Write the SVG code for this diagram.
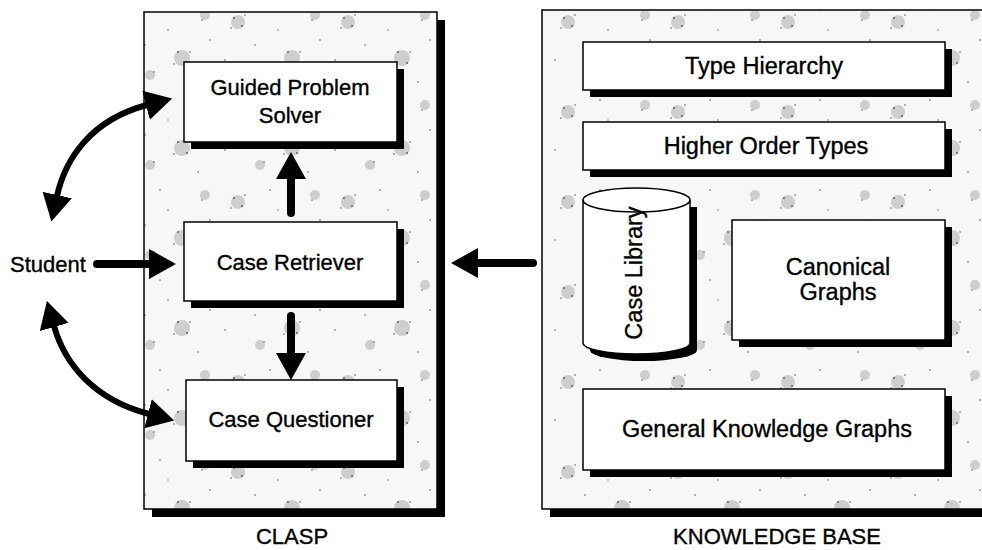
<svg xmlns="http://www.w3.org/2000/svg" width="982" height="550" viewBox="0 0 982 550">
<defs>
<style>
.txt{font-family:"Liberation Sans",Arial,sans-serif;font-size:22px;fill:#000;stroke:#000;stroke-width:0.35;text-anchor:middle}
.txr{font-family:"Liberation Sans",Arial,sans-serif;font-size:23.5px;fill:#000;stroke:#000;stroke-width:0.35;text-anchor:middle}
.box{fill:#fff;stroke:#000;stroke-width:1.5}
.shadow{fill:#000}
.panel{fill:url(#tex);stroke:#000;stroke-width:1.5}
.conn{fill:none;stroke:#000;stroke-width:8;marker-end:url(#ah)}
.curve{fill:none;stroke:#000;stroke-width:6;marker-end:url(#ah);marker-start:url(#ah)}
</style>
<marker id="ah" markerUnits="userSpaceOnUse" markerWidth="28" markerHeight="30" refX="1" refY="15" orient="auto-start-reverse">
<path d="M0,0 L27,15 L0,30 Z" fill="#000"/>
</marker>
<pattern id="tex" width="110" height="90" patternUnits="userSpaceOnUse">
<rect width="110" height="90" fill="#f7f7f7"/>
<g fill="#9a9a9a" opacity="0.45">
<circle cx="18" cy="22" r="7"/><circle cx="72" cy="58" r="8"/><circle cx="95" cy="15" r="5"/><circle cx="40" cy="75" r="5"/>
</g>
<g fill="#555">
<circle cx="14" cy="18" r="0.9"/><circle cx="22" cy="26" r="0.9"/><circle cx="25" cy="15" r="0.8"/><circle cx="11" cy="28" r="0.8"/>
<circle cx="68" cy="52" r="0.9"/><circle cx="77" cy="63" r="0.9"/><circle cx="80" cy="52" r="0.8"/><circle cx="64" cy="64" r="0.8"/>
<circle cx="50" cy="10" r="0.8"/><circle cx="5" cy="60" r="0.8"/><circle cx="100" cy="40" r="0.8"/><circle cx="35" cy="45" r="0.8"/>
<circle cx="88" cy="82" r="0.8"/><circle cx="58" cy="30" r="0.7"/><circle cx="92" cy="20" r="0.8"/><circle cx="44" cy="72" r="0.8"/>
</g>
</pattern>
</defs>

<g id="clasp">
<rect class="shadow" x="152" y="20" width="293" height="497"/>
<rect class="panel" x="144" y="12" width="293" height="497"/>
<text class="txt" x="292" y="544">CLASP</text>
</g>

<g id="kb">
<rect class="shadow" x="550" y="18" width="445" height="499"/>
<rect class="panel" x="542" y="10" width="445" height="499"/>
<text class="txt" x="777" y="544">KNOWLEDGE BASE</text>
</g>

<g id="gps">
<rect class="shadow" x="191" y="69" width="213" height="80"/>
<rect class="box" x="184" y="62" width="213" height="80"/>
<text class="txt" x="290" y="95">Guided Problem</text>
<text class="txt" x="290" y="123">Solver</text>
</g>

<g id="cr">
<rect class="shadow" x="191" y="229" width="213" height="79"/>
<rect class="box" x="184" y="222" width="213" height="79"/>
<text class="txt" x="290" y="270">Case Retriever</text>
</g>

<g id="cq">
<rect class="shadow" x="193" y="387" width="211" height="81"/>
<rect class="box" x="186" y="380" width="211" height="81"/>
<text class="txt" x="291" y="427">Case Questioner</text>
</g>

<g id="student">
<text class="txt" x="48" y="272">Student</text>
</g>

<g id="th">
<rect class="shadow" x="590" y="49" width="362" height="48"/>
<rect class="box" x="583" y="42" width="362" height="48"/>
<text class="txr" x="764" y="74">Type Hierarchy</text>
</g>

<g id="hot">
<rect class="shadow" x="590" y="129" width="362" height="48"/>
<rect class="box" x="583" y="122" width="362" height="48"/>
<text class="txr" x="766" y="154">Higher Order Types</text>
</g>

<g id="cl">
<path class="shadow" d="M590,207 L590,350 A53.5,11 0 0 0 697,350 L697,207 Z"/>
<path class="box" d="M583,200 L583,343 A53.5,11 0 0 0 690,343 L690,200 A53.5,12 0 0 0 583,200 Z"/>
<path d="M583,200 A53.5,12 0 0 0 690,200" fill="none" stroke="#000" stroke-width="1.5"/>
<text class="txr" x="642" y="273" transform="rotate(-90 642 273)">Case Library</text>
</g>

<g id="cg">
<rect class="shadow" x="739" y="227" width="213" height="120"/>
<rect class="box" x="732" y="220" width="213" height="120"/>
<text class="txr" x="838" y="275">Canonical</text>
<text class="txr" x="838" y="300">Graphs</text>
</g>

<g id="gkg">
<rect class="shadow" x="590" y="396" width="362" height="81"/>
<rect class="box" x="583" y="389" width="362" height="81"/>
<text class="txr" x="767" y="437">General Knowledge Graphs</text>
</g>

<g id="connectors">
<path class="conn" d="M97,264 L150,264" stroke-linecap="round"/>
<path class="conn" d="M291,213 L291,178" stroke-linecap="round"/>
<path class="conn" d="M291,316 L291,354" stroke-linecap="round"/>
<path class="conn" d="M533,263 L477,263" stroke-linecap="round"/>
<path class="curve" d="M57,196 C65,160 90,120 147,105"/>
<path class="curve" d="M54,326 C65,365 95,400 149,414"/>
</g>
</svg>
